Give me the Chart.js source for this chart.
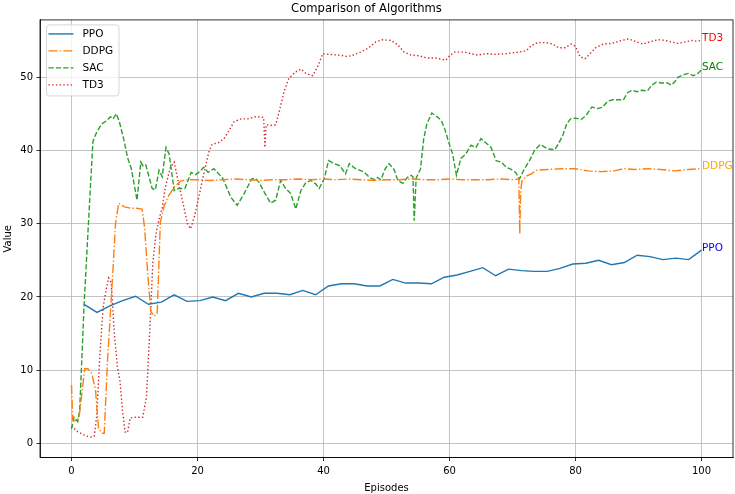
<!DOCTYPE html>
<html>
<head>
<meta charset="utf-8">
<script src="https://cdn.jsdelivr.net/npm/chart.js@4.4.1/dist/chart.umd.min.js"></script>
<style>
  body { margin: 0; background: #fff; }
  canvas { display: block; }
</style>
</head>
<body>
<canvas id="graf" width="735" height="494"></canvas>
<script>
"use strict";

const seriesNames = ["PPO", "DDPG", "SAC", "TD3"];
const xTicks = [0, 20, 40, 60, 80, 100];
const yTicks = [0, 10, 20, 30, 40, 50];

const ppoEpisodes = [2, 4.04, 6.08, 8.13, 10.17, 12.21, 14.25, 16.29, 18.33, 20.38, 22.42, 24.46, 26.5,
  28.54, 30.58, 32.63, 34.67, 36.71, 38.75, 40.79, 42.83, 44.88, 46.92, 48.96, 51,
  53.04, 55.08, 57.13, 59.17, 61.21, 63.25, 65.29, 67.33, 69.38, 71.42, 73.46, 75.5,
  77.54, 79.58, 81.63, 83.67, 85.71, 87.75, 89.79, 91.83, 93.88, 95.92, 97.96, 100];
const ppoValues = [19.0, 17.9, 18.8, 19.5, 20.1, 19.0, 19.3, 20.3, 19.4, 19.5, 20.0, 19.5, 20.5,
  20.0, 20.5, 20.5, 20.3, 20.9, 20.3, 21.5, 21.8, 21.8, 21.5, 21.5, 22.4,
  21.9, 21.9, 21.8, 22.7, 23.0, 23.5, 24.0, 22.9, 23.8, 23.6, 23.5, 23.5,
  23.9, 24.5, 24.6, 25.0, 24.4, 24.7, 25.7, 25.5, 25.1, 25.3, 25.1, 26.4];

const ddpgEpisodes = [0, 0.2, 0.8, 1.2, 2.1, 2.6, 3.2, 3.8, 4.3, 4.9, 5.2, 5.7, 6.5, 7.0, 7.5, 8.4, 9.4, 10.3,
  11.2, 11.6, 12.1, 12.6, 13.1, 13.6, 14.1, 14.7, 15.4, 16.3, 17.3, 18.4,
  20, 22, 24, 26, 28, 30, 32, 34, 36, 38, 40, 42, 44, 46, 48, 50, 52, 54, 56, 58, 60, 62, 64, 66, 68, 70,
  71.0, 71.15, 71.3, 71.5, 72.2, 73.0, 73.8, 75.6, 77.7, 79.9, 82.0, 84.1, 86.2, 87.6, 89.5, 91.6, 93.5,
  95.7, 97.9, 100];
const ddpgValues = [8.0, 3.2, 3.1, 3.6, 10.2, 10.2, 9.6, 7.4, 2.0, 1.4, 1.4, 11.0, 22.5, 30.1, 32.8, 32.3, 32.1, 32.1,
  32.0, 29.5, 23.1, 18.0, 17.4, 17.7, 30.2, 32.4, 33.8, 35.0, 35.8, 36.0,
  36.0, 35.9, 36.0, 36.1, 36.0, 35.9, 36.0, 36.0, 36.1, 36.0, 36.1, 36.0, 36.1, 36.0, 35.9, 36.0, 36.0, 36.1,
  36.0, 36.0, 36.1, 36.0, 36.0, 36.0, 36.1, 36.0,
  36.1, 28.6, 34.5, 35.8, 36.5, 36.8, 37.3, 37.4, 37.5, 37.5, 37.2, 37.1, 37.2, 37.5, 37.4, 37.5, 37.4,
  37.2, 37.4, 37.5];

const sacEpisodes = [0, 0.4, 1.0, 1.3, 2, 3, 3.4, 4, 4.8, 5.5, 6.2, 6.6, 7.1, 7.6, 8.3, 8.9, 9.5, 10.4, 11.0,
  11.4, 11.8, 12.8, 13.3, 13.9, 14.4, 15.0, 15.5, 16.3, 17.0, 18.0, 19.0, 19.7, 20.2, 21.0, 21.7, 22.6,
  24.0, 25.3, 26.3, 27.4, 28.6, 29.2, 29.8, 30.6, 31.6, 32.4, 33.2, 34.0, 34.8, 35.6, 36.4, 37.2, 38.0,
  38.8, 39.3, 40.1, 40.8, 41.7, 42.6, 43.5, 44.1, 44.9, 45.7, 46.5, 47.3, 48.1, 48.6, 49.1, 49.8, 50.4,
  51.2, 51.8, 52.6, 53.3, 53.9, 54.2, 54.4, 54.7, 55.4, 55.9, 56.4, 57.2, 58.0, 58.7, 59.3, 59.8, 60.5,
  61.1, 61.8, 62.6, 63.4, 64.2, 65.0, 65.8, 66.6, 67.4, 68.2, 69.0, 69.8, 70.5, 71.1, 71.9, 72.7, 73.5,
  74.4, 75.6, 76.7, 77.3, 78.0, 78.6, 79.2, 80.0, 80.9, 81.7, 82.6, 83.5, 84.3, 85.1, 85.9, 86.8, 87.6,
  88.3, 89.0, 89.7, 90.5, 91.4, 92.1, 92.8, 93.7, 94.6, 95.2, 95.8, 96.3, 97.1, 97.9, 98.7, 99.3, 100];
const sacValues = [2.0, 3.6, 3.0, 4.5, 19, 35, 41.2, 42.5, 43.6, 44.0, 44.6, 44.3, 45.0, 43.9, 41.5, 39.0, 37.5, 33.2, 38.4,
  37.8, 38.0, 34.8, 34.6, 37.3, 36.4, 40.4, 39.5, 34.5, 34.8, 34.8, 37.0, 36.7, 37.0, 37.7, 37.0, 37.5,
  36.2, 33.6, 32.5, 34.1, 36.1, 36.2, 35.6, 34.3, 32.8, 33.2, 35.9, 34.8, 34.1, 32.0, 34.5, 35.6, 35.9,
  35.4, 34.8, 36.1, 38.6, 38.2, 37.9, 36.8, 38.2, 37.6, 37.3, 37.0, 36.3, 36.0, 36.3, 36.0, 37.5, 38.2,
  37.4, 35.9, 35.5, 36.3, 36.6, 36.4, 30.4, 36.2, 37.5, 41.5, 43.6, 45.1, 44.6, 44.1, 42.8, 41.3, 39.5,
  36.6, 38.9, 39.5, 40.7, 40.4, 41.6, 41.0, 40.4, 38.6, 38.4, 37.7, 37.4, 37.0, 36.1, 37.5, 38.6, 40.0,
  40.8, 40.2, 40.1, 40.9, 42.1, 43.6, 44.3, 44.4, 44.2, 44.8, 45.9, 45.7, 45.9, 46.7, 46.9, 46.9, 46.9,
  47.9, 48.2, 48.0, 48.2, 48.1, 48.9, 49.3, 49.2, 49.2, 48.9, 49.4, 50.0, 50.3, 50.5, 50.2, 50.4, 51.0];

const td3Episodes = [0, 1.0, 1.7, 2.5, 3.1, 3.6, 4.0, 4.5, 5.0, 5.5, 5.9, 6.3, 6.8, 7.3, 7.7, 8.1, 8.5, 8.9, 9.3,
  10.2, 11.3, 11.9, 12.4, 12.9, 13.4, 13.9, 14.4, 14.9, 15.7, 16.3, 16.8, 17.6, 18.4, 18.9, 19.5, 20.2,
  21.0, 21.8, 22.3, 23.4, 24.2, 25.0, 25.8, 26.9, 28.0, 29.3, 30.5, 30.7, 30.9, 31.6, 32.4, 33.0, 33.8,
  34.5, 35.4, 36.4, 37.2, 38.3, 39.1, 39.9, 41.0, 42.5, 43.8, 44.7, 45.9, 47.2, 48.3, 49.4, 50.7, 51.8,
  52.8, 53.9, 55.2, 56.5, 57.8, 58.9, 59.4, 60.0, 60.8, 62.4, 63.4, 64.5, 65.8, 67.4, 69.0, 70.9, 72.2,
  73.0, 74.0, 75.4, 76.4, 77.3, 78.3, 79.3, 80.0, 80.7, 81.5, 82.3, 83.2, 84.4, 85.8, 87.3, 88.4, 89.7,
  90.7, 91.8, 93.1, 94.2, 95.2, 96.3, 97.4, 98.5, 99.2, 100];
const td3Values = [2.4, 1.6, 1.3, 1.0, 0.9, 1.0, 3.7, 12.0, 18.5, 21.0, 22.6, 22.0, 15.0, 10.4, 8.5, 4.5, 1.6, 1.5, 3.5,
  3.6, 3.6, 6.3, 15.0, 24.5, 28.6, 30.6, 32.2, 35.0, 37.7, 38.4, 36.3, 33.2, 30.0, 29.3, 30.9, 33.6,
  36.8, 39.8, 40.8, 41.1, 41.6, 42.7, 43.9, 44.3, 44.3, 44.6, 44.5, 40.4, 43.5, 43.4, 43.5, 45.4, 48.2,
  49.8, 50.6, 51.1, 50.5, 50.2, 51.5, 53.2, 53.1, 53.0, 52.8, 53.0, 53.4, 54.0, 54.8, 55.1, 55.0, 54.4,
  53.4, 53.0, 52.9, 52.6, 52.6, 52.4, 52.3, 52.9, 53.4, 53.4, 53.2, 53.0, 53.2, 53.1, 53.2, 53.4, 53.6,
  54.3, 54.7, 54.7, 54.5, 54.0, 54.0, 54.5, 54.2, 52.8, 52.5, 53.2, 54.0, 54.5, 54.6, 55.0, 55.2, 54.8,
  54.5, 54.8, 55.1, 55.0, 54.8, 54.6, 54.8, 55.0, 54.9, 55.0];

const lineColors = ["#1f77b4", "#ff7f0e", "#2ca02c", "#d62728"];
const labelColors = ["blue", "orange", "green", "red"];
const dashes = [[], [9, 2.2, 1.4, 2.2], [5.2, 2.2], [1.4, 2.3]];
const fontFam = "'DejaVu Sans', sans-serif";

function punkter(xs, ys) {
  return xs.map((x, i) => ({ x: x, y: ys[i] }));
}

const serier = [
  punkter(ppoEpisodes, ppoValues),
  punkter(ddpgEpisodes, ddpgValues),
  punkter(sacEpisodes, sacValues),
  punkter(td3Episodes, td3Values)
];

// frame round the plot area, like matplotlib spines
const rammePlugin = {
  id: "ramme",
  afterDatasetsDraw(chart) {
    const { ctx, chartArea: a } = chart;
    ctx.save();
    ctx.strokeStyle = "#000";
    ctx.lineWidth = 0.8;
    ctx.strokeRect(a.left, a.top, a.right - a.left, a.bottom - a.top);
    ctx.restore();
  }
};

// name of each series at its last point
const slutLabelPlugin = {
  id: "slutLabels",
  afterDatasetsDraw(chart) {
    const { ctx, scales: { x, y } } = chart;
    ctx.save();
    ctx.font = "10.5px " + fontFam;
    ctx.textAlign = "left";
    ctx.textBaseline = "middle";
    chart.data.datasets.forEach((ds, i) => {
      const sidste = ds.data[ds.data.length - 1];
      ctx.fillStyle = labelColors[i];
      ctx.fillText(seriesNames[i], x.getPixelForValue(sidste.x) + 0.5, y.getPixelForValue(sidste.y) - 2);
    });
    ctx.restore();
  }
};

// legend box in the upper left corner of the plot
const legendPlugin = {
  id: "hjoerneLegend",
  afterDraw(chart) {
    const { ctx, chartArea: a } = chart;
    const bx = a.left + 6.5, by = a.top + 5, bw = 72.5, bh = 71;
    ctx.save();
    ctx.beginPath();
    ctx.roundRect(bx, by, bw, bh, 3);
    ctx.fillStyle = "rgba(255,255,255,0.8)";
    ctx.fill();
    ctx.strokeStyle = "#cccccc";
    ctx.lineWidth = 0.8;
    ctx.stroke();
    ctx.font = "10.5px " + fontFam;
    ctx.textAlign = "left";
    ctx.textBaseline = "middle";
    chart.data.datasets.forEach((ds, i) => {
      const ly = by + 9 + i * 17;
      ctx.beginPath();
      ctx.setLineDash(dashes[i]);
      ctx.strokeStyle = lineColors[i];
      ctx.lineWidth = 1.4;
      ctx.moveTo(bx + 2, ly);
      ctx.lineTo(bx + 27, ly);
      ctx.stroke();
      ctx.setLineDash([]);
      ctx.fillStyle = "#000";
      ctx.fillText(ds.label, bx + 36, ly);
    });
    ctx.restore();
  }
};

new Chart(document.getElementById("graf").getContext("2d"), {
  type: "line",
  data: {
    datasets: serier.map((data, i) => ({
      label: seriesNames[i],
      data: data,
      borderColor: lineColors[i],
      borderWidth: 1.4,
      borderDash: dashes[i],
      pointRadius: 0,
      tension: 0,
      fill: false
    }))
  },
  options: {
    responsive: false,
    animation: false,
    layout: { padding: { left: 0, right: 2, top: 0, bottom: 0 } },
    plugins: {
      legend: { display: false },
      tooltip: { enabled: false },
      title: {
        display: true,
        text: "Comparison of Algorithms",
        color: "#000",
        font: { family: fontFam, size: 11.6, weight: "normal" },
        padding: { top: 2.5, bottom: 3.5 }
      }
    },
    scales: {
      x: {
        type: "linear",
        min: -5,
        max: 105,
        afterBuildTicks: s => { s.ticks = xTicks.map(v => ({ value: v })); },
        afterFit: s => { s.height = 36.5; },
        grid: { color: "#b0b0b0", lineWidth: 0.75, tickColor: "#000", tickLength: 3.5, tickWidth: 0.8 },
        border: { color: "#000", width: 0.8 },
        ticks: { color: "#000", font: { family: fontFam, size: 10 }, padding: 4, maxRotation: 0 },
        title: { display: true, text: "Episodes", color: "#000", font: { family: fontFam, size: 10 }, padding: { top: 1, bottom: 0 } }
      },
      y: {
        min: -1.9,
        max: 57.8,
        afterBuildTicks: s => { s.ticks = yTicks.map(v => ({ value: v })); },
        afterFit: s => { s.width = 40; },
        grid: { color: "#b0b0b0", lineWidth: 0.75, tickColor: "#000", tickLength: 3.5, tickWidth: 0.8 },
        border: { color: "#000", width: 0.8 },
        ticks: { color: "#000", font: { family: fontFam, size: 10 }, padding: 3.5 },
        title: { display: true, text: "Value", color: "#000", font: { family: fontFam, size: 10 }, padding: { top: 2, bottom: 0 } }
      }
    }
  },
  plugins: [rammePlugin, slutLabelPlugin, legendPlugin]
});
</script>
</body>
</html>
